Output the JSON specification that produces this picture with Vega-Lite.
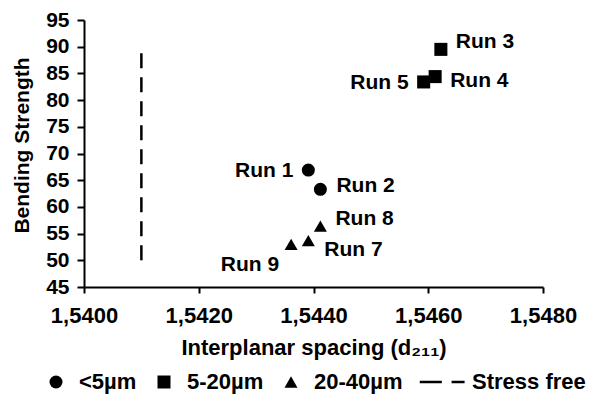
{
  "$schema": "https://vega.github.io/schema/vega-lite/v6.json",
  "width": 459,
  "height": 267,
  "autosize": {"type": "none"},
  "padding": {"left": 84, "top": 20, "right": 49, "bottom": 109},
  "background": "white",
  "data": {
    "values": [
      {"run": "Run 1", "d": 1.54391, "strength": 66.9, "group": "<5µm"},
      {"run": "Run 2", "d": 1.54412, "strength": 63.3, "group": "<5µm"},
      {"run": "Run 3", "d": 1.54622, "strength": 89.5, "group": "5-20µm"},
      {"run": "Run 4", "d": 1.54612, "strength": 84.4, "group": "5-20µm"},
      {"run": "Run 5", "d": 1.54592, "strength": 83.4, "group": "5-20µm"},
      {"run": "Run 7", "d": 1.54391, "strength": 53.7, "group": "20-40µm"},
      {"run": "Run 8", "d": 1.54412, "strength": 56.4, "group": "20-40µm"},
      {"run": "Run 9", "d": 1.54361, "strength": 53.0, "group": "20-40µm"}
    ]
  },
  "encoding": {
    "x": {
      "field": "d",
      "type": "quantitative",
      "scale": {"domain": [1.54, 1.548], "nice": false, "zero": false},
      "axis": {
        "title": "Interplanar spacing (d₂₁₁)",
        "values": [1.54, 1.542, 1.544, 1.546, 1.548],
        "labelExpr": "replace(format(datum.value, '.4f'), '.', ',')",
        "labelFlush": false,
        "tickSize": 6,
        "labelPadding": 12,
        "titlePadding": 11,
        "labelFontSize": 22,
        "titleFontSize": 22
      }
    },
    "y": {
      "field": "strength",
      "type": "quantitative",
      "scale": {"domain": [45, 95], "nice": false, "zero": false},
      "axis": {
        "title": "Bending Strength",
        "values": [45, 50, 55, 60, 65, 70, 75, 80, 85, 90, 95],
        "labelFlush": false,
        "tickSize": 7,
        "labelPadding": 8,
        "labelFontSize": 21,
        "titleFontSize": 21,
        "titleX": -62,
        "titleY": 125,
        "titleBaseline": "middle",
        "titleAlign": "center",
        "titleAngle": -90
      }
    }
  },
  "layer": [
    {
      "data": {"values": [{"d": 1.541, "strength": 50, "strength2": 90}]},
      "mark": {"type": "rule", "color": "black", "strokeWidth": 2.5, "strokeDash": [15, 9]},
      "encoding": {"y2": {"field": "strength2"}}
    },
    {
      "mark": {"type": "point", "filled": true, "color": "black", "opacity": 1},
      "encoding": {
        "size": {
          "field": "group",
          "type": "nominal",
          "scale": {"domain": ["<5µm", "5-20µm", "20-40µm"], "range": [170, 170, 220]},
          "legend": null
        },
        "shape": {
          "field": "group",
          "type": "nominal",
          "scale": {
            "domain": ["<5µm", "5-20µm", "20-40µm", "Stress free"],
            "range": ["circle", "square", "triangle-up", "M-4.5,-0.2H-1.1V0.2H-4.5Z M0.4,-0.2H2.4V0.2H0.4Z"]
          },
          "legend": {
            "title": null,
            "orient": "none",
            "direction": "horizontal",
            "legendX": -39,
            "legendY": 351,
            "symbolSize": 169,
            "symbolFillColor": "black",
            "symbolStrokeWidth": 0,
            "symbolOpacity": 1,
            "labelFontSize": 22,
            "labelFontWeight": "bold",
            "labelFont": "Liberation Sans",
            "labelColor": "black",
            "labelOffset": 12,
            "columnPadding": 16
          }
        }
      }
    },
    {
      "transform": [{"filter": "datum.run === 'Run 1' || datum.run === 'Run 5'"}],
      "mark": {"type": "text", "align": "right", "baseline": "middle", "dx": -15, "dy": 1, "fontSize": 21, "fontWeight": "bold", "font": "Liberation Sans", "color": "black"},
      "encoding": {"text": {"field": "run"}}
    },
    {
      "transform": [{"filter": "datum.run === 'Run 9'"}],
      "mark": {"type": "text", "align": "right", "baseline": "middle", "dx": -12, "dy": 21, "fontSize": 21, "fontWeight": "bold", "font": "Liberation Sans", "color": "black"},
      "encoding": {"text": {"field": "run"}}
    },
    {
      "transform": [{"filter": "datum.run === 'Run 3' || datum.run === 'Run 8'"}],
      "mark": {"type": "text", "align": "left", "baseline": "middle", "dx": 15, "dy": -7, "fontSize": 21, "fontWeight": "bold", "font": "Liberation Sans", "color": "black"},
      "encoding": {"text": {"field": "run"}}
    },
    {
      "transform": [{"filter": "datum.run === 'Run 2'"}],
      "mark": {"type": "text", "align": "left", "baseline": "middle", "dx": 16, "dy": -3, "fontSize": 21, "fontWeight": "bold", "font": "Liberation Sans", "color": "black"},
      "encoding": {"text": {"field": "run"}}
    },
    {
      "transform": [{"filter": "datum.run === 'Run 4'"}],
      "mark": {"type": "text", "align": "left", "baseline": "middle", "dx": 15, "dy": 4, "fontSize": 21, "fontWeight": "bold", "font": "Liberation Sans", "color": "black"},
      "encoding": {"text": {"field": "run"}}
    },
    {
      "transform": [{"filter": "datum.run === 'Run 7'"}],
      "mark": {"type": "text", "align": "left", "baseline": "middle", "dx": 16, "dy": 9, "fontSize": 21, "fontWeight": "bold", "font": "Liberation Sans", "color": "black"},
      "encoding": {"text": {"field": "run"}}
    }
  ],
  "config": {
    "view": {"stroke": null},
    "font": "Liberation Sans",
    "axis": {
      "grid": false,
      "domainColor": "black",
      "domainWidth": 2,
      "tickColor": "black",
      "tickWidth": 2,
      "labelColor": "black",
      "titleColor": "black",
      "labelFont": "Liberation Sans",
      "titleFont": "Liberation Sans",
      "labelFontWeight": "bold",
      "titleFontWeight": "bold"
    }
  }
}
